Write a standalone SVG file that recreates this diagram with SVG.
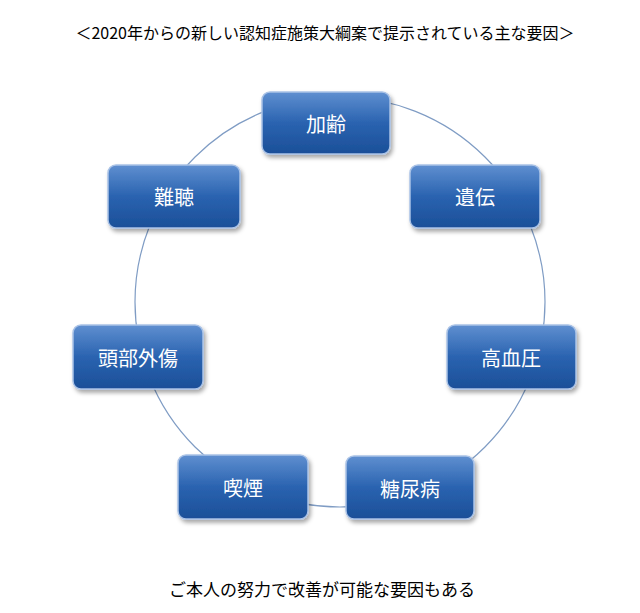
<svg xmlns="http://www.w3.org/2000/svg" width="640" height="613" viewBox="0 0 640 613">
<defs>
<linearGradient id="g" x1="0" y1="0" x2="0" y2="1">
<stop offset="0" stop-color="#5f8fd0"/><stop offset="0.5" stop-color="#2a63b0"/><stop offset="1" stop-color="#1b4f98"/>
</linearGradient>
<filter id="s" x="-20%" y="-20%" width="140%" height="150%"><feDropShadow dx="2" dy="3" stdDeviation="2" flood-opacity="0.35"/></filter>
</defs>
<style>
.b{fill:url(#g);stroke:#a9c2e6;stroke-width:1.5;filter:url(#s)}
.t{font-family:"Noto Sans CJK JP","Noto Sans",sans-serif;font-size:20px;fill:#fff;text-anchor:middle;dominant-baseline:central}
.h{font-family:"Noto Sans CJK JP","Noto Sans",sans-serif;fill:#000;text-anchor:middle}
</style>
<rect width="640" height="613" fill="#fff"/>
<text class="h" x="325" y="39" font-size="16">＜2020年からの新しい認知症施策大綱案で提示されている主な要因＞</text>
<g id="connectors"><circle cx="340" cy="302" r="205" fill="none" stroke="#7f9cc4" stroke-width="1.2"/></g>
<g id="n1"><rect class="b" x="262" y="92" width="128" height="62" rx="8"/><text class="t" x="326" y="123">加齢</text></g>
<g id="n2"><rect class="b" x="410" y="165" width="130" height="63" rx="8"/><text class="t" x="475" y="196">遺伝</text></g>
<g id="n3"><rect class="b" x="447" y="325" width="129" height="64" rx="8"/><text class="t" x="511" y="357">高血圧</text></g>
<g id="n4"><rect class="b" x="346" y="456" width="128" height="63" rx="8"/><text class="t" x="410" y="488">糖尿病</text></g>
<g id="n5"><rect class="b" x="178" y="455" width="130" height="64" rx="8"/><text class="t" x="243" y="487">喫煙</text></g>
<g id="n6"><rect class="b" x="73" y="325" width="130" height="64" rx="8"/><text class="t" x="138" y="357">頭部外傷</text></g>
<g id="n7"><rect class="b" x="108" y="165" width="132" height="63" rx="8"/><text class="t" x="174" y="196">難聴</text></g>
<text class="h" x="322" y="596" font-size="17">ご本人の努力で改善が可能な要因もある</text>
</svg>
